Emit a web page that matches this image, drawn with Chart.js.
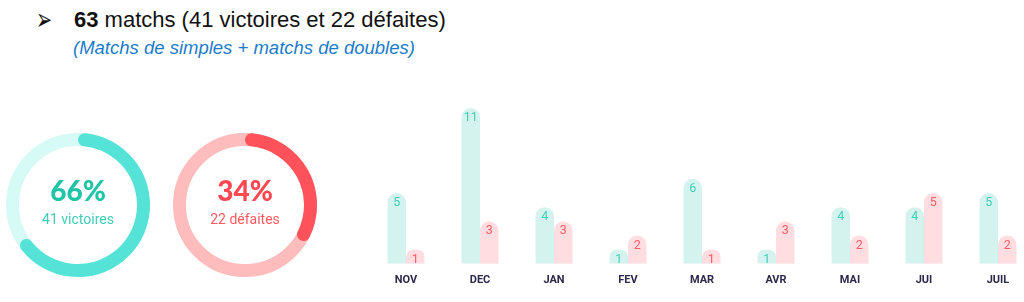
<!DOCTYPE html>
<html>
<head>
<meta charset="utf-8">
<script src="https://cdn.jsdelivr.net/npm/chart.js@4.4.0/dist/chart.umd.min.js"></script>
<style>
  html, body { margin: 0; padding: 0; background: #fff; overflow: hidden; }
  body { width: 1024px; height: 302px; position: relative; font-family: "Liberation Sans", Arial, sans-serif; }
  .title { position: absolute; left: 74px; top: 7px; font-size: 22px; color: #111; white-space: nowrap; }
  .title b { font-weight: bold; }
  .arrow { position: absolute; left: 36px; top: 6px; font-size: 24px; transform: scale(0.8, 1.3); transform-origin: left center; font-family: "DejaVu Sans"; color: #111; }
  .sub { position: absolute; left: 73px; top: 37px; font-size: 18.5px; font-style: italic; color: #1a7cc9; white-space: nowrap; }
  .ring { position: absolute; width: 150px; height: 150px; top: 130px; }
  .ring-text { position: absolute; width: 150px; top: 175px; text-align: center; font-family: Roboto, sans-serif; }
  .pct { font-family: Lato, sans-serif; font-weight: 900; font-size: 28px; line-height: 30px; }
  .lbl { font-size: 14px; line-height: 20px; margin-top: 4px; }
  #bars { position: absolute; left: 369px; top: 98px; width: 666px; height: 204px; }
</style>
</head>
<body>
<div class="arrow">➢</div>
<div class="title"><b>63</b> matchs (41 victoires et 22 défaites)</div>
<div class="sub">(Matchs de simples + matchs de doubles)</div>

<div class="ring" style="left:3px"><canvas id="winRing"></canvas></div>
<div class="ring-text" style="left:3px">
  <div class="pct" style="color:#22c4a8">66%</div>
  <div class="lbl" style="color:#3fcdb6">41 victoires</div>
</div>
<div class="ring" style="left:170px"><canvas id="lossRing"></canvas></div>
<div class="ring-text" style="left:170px">
  <div class="pct" style="color:#ff4852">34%</div>
  <div class="lbl" style="color:#ff5a62">22 défaites</div>
</div>

<div id="bars"><canvas id="monthChart"></canvas></div>

<script>
// Data
const months = ['NOV', 'DEC', 'JAN', 'FEV', 'MAR', 'AVR', 'MAI', 'JUI', 'JUIL'];
const victoires = [5, 11, 4, 1, 6, 1, 4, 4, 5];
const defaites = [1, 3, 3, 2, 1, 3, 2, 5, 2];
const winPct = [66, 34];
const lossPct = [34, 66];

// light full ring behind the coloured arc
const ringTrack = {
    id: 'ringTrack',
    beforeDatasetsDraw(chart, args, opts) {
        const arc = chart.getDatasetMeta(0).data[0];
        if (!arc) return;
        const ctx = chart.ctx;
        const r = (arc.outerRadius + arc.innerRadius) / 2;
        ctx.save();
        ctx.beginPath();
        ctx.arc(arc.x, arc.y, r, 0, Math.PI * 2);
        ctx.lineWidth = arc.outerRadius - arc.innerRadius;
        ctx.strokeStyle = opts.color;
        ctx.stroke();
        ctx.restore();
    }
};

function makeRing(id, values, color, track) {
    const ctx = document.getElementById(id).getContext('2d');
    new Chart(ctx, {
        type: 'doughnut',
        data: {
            datasets: [{
                data: values,
                backgroundColor: [color, 'rgba(0,0,0,0)'],
                borderWidth: 0,
                borderRadius: 7
            }]
        },
        options: {
            responsive: true,
            maintainAspectRatio: false,
            animation: false,
            events: [],
            cutout: '82%',
            layout: { padding: 3 },
            plugins: {
                legend: { display: false },
                tooltip: { enabled: false },
                ringTrack: { color: track }
            }
        },
        plugins: [ringTrack]
    });
}

makeRing('winRing', winPct, '#54e3d6', '#d6faf5');
makeRing('lossRing', lossPct, '#ff525a', '#ffbcbc');

// value labels inside the top of each bar
const barValues = {
    id: 'barValues',
    afterDatasetsDraw(chart) {
        const ctx = chart.ctx;
        ctx.save();
        ctx.font = '12.5px Roboto, sans-serif';
        ctx.textAlign = 'center';
        ctx.textBaseline = 'middle';
        chart.data.datasets.forEach((ds, i) => {
            chart.getDatasetMeta(i).data.forEach((bar, j) => {
                ctx.fillStyle = ds.labelColor;
                ctx.fillText(ds.data[j], bar.x, bar.y + 10);
            });
        });
        ctx.restore();
    }
};

const barCtx = document.getElementById('monthChart').getContext('2d');
new Chart(barCtx, {
    type: 'bar',
    data: {
        labels: months,
        datasets: [{
            label: 'Victoires',
            data: victoires,
            backgroundColor: '#d4f3ee',
            labelColor: '#3ecfb6',
            borderRadius: { topLeft: 10, topRight: 10 },
            borderSkipped: 'bottom'
        }, {
            label: 'Défaites',
            data: defaites,
            backgroundColor: '#ffdde0',
            labelColor: '#ff5c66',
            borderRadius: { topLeft: 10, topRight: 10 },
            borderSkipped: 'bottom'
        }]
    },
    options: {
        responsive: true,
        maintainAspectRatio: false,
        animation: false,
        events: [],
        layout: { padding: { top: 10, bottom: 5, left: 0, right: 0 } },
        datasets: {
            bar: { categoryPercentage: 0.5, barPercentage: 1.0 }
        },
        scales: {
            x: {
                grid: { display: false, drawTicks: false },
                border: { display: false },
                ticks: {
                    padding: 10,
                    color: '#2b2a4c',
                    font: { family: 'Roboto', size: 11, weight: 'bold' }
                }
            },
            y: {
                display: false,
                min: 0,
                max: 11
            }
        },
        plugins: {
            legend: { display: false },
            tooltip: { enabled: false }
        }
    },
    plugins: [barValues]
});
</script>
</body>
</html>
